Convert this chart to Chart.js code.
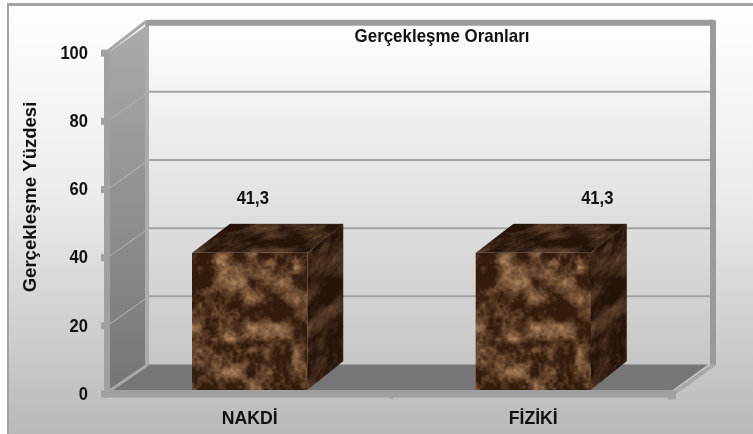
<!DOCTYPE html>
<html><head><meta charset="utf-8">
<style>html,body{margin:0;padding:0;background:#fff}#w{width:753px;height:434px;position:relative}</style>
<script src="https://cdn.jsdelivr.net/npm/chart.js@4"></script></head>
<body><div id="w"><canvas id="c" width="753" height="434"></canvas></div>
<script>
const categories = ['NAKDİ', 'FİZİKİ'];
const realizationValues = [41.3, 41.3];
const valueLabels = ['41,3', '41,3'];
const chartTitle = 'Gerçekleşme Oranları';
const yAxisTitle = 'Gerçekleşme Yüzdesi';
const yTicks = [0, 20, 40, 60, 80, 100];

const FONT = '"Liberation Sans",Arial,sans-serif';
const DX = 41, DY = 29, BDX = 36;
const LABEL_SHIFT = [3, 64];

function hash(x, y) { let h = (x * 374761393 + y * 668265263) | 0; h = Math.imul(h ^ (h >>> 13), 1274126177); return ((h ^ (h >>> 16)) >>> 0) / 4294967295; }
function noise(x, y) {
  const xi = Math.floor(x), yi = Math.floor(y), f = x - xi, g = y - yi;
  const u = f * f * (3 - 2 * f), v = g * g * (3 - 2 * g);
  const a = hash(xi, yi), b = hash(xi + 1, yi), c = hash(xi, yi + 1), d = hash(xi + 1, yi + 1);
  return a + (b - a) * u + (c - a) * v + (a - b - c + d) * u * v;
}
function fbm(x, y) { let s = 0, a = .5; for (let i = 0; i < 5; i++) { s += a * noise(x, y); x = x * 2 + 17; y = y * 2 + 9; a *= .5; } return s / .97; }
const tex = document.createElement('canvas'); tex.width = 116; tex.height = 138;
(function () {
  const g = tex.getContext('2d'), im = g.createImageData(116, 138);
  for (let y = 0; y < 138; y++) for (let x = 0; x < 116; x++) {
    let t = (fbm(x / 15 + 3, y / 15 + 5) - .5) * 1.7 + .27;
    t += .6 * (fbm(x / 2.8 + 40, y / 2.8 + 40) - .5);
    const hx = (x - 36) / 13, hy = (y - 86) / 6;
    t += .6 * Math.exp(-(hx * hx + hy * hy));
    const hx2 = (x - 58) / 14, hy2 = (y - 28) / 16;
    t += .15 * Math.exp(-(hx2 * hx2 + hy2 * hy2));
    t = Math.max(0, Math.min(1, t));
    const i = (y * 116 + x) * 4;
    im.data[i] = 52 + t * 135; im.data[i + 1] = 28 + t * 115; im.data[i + 2] = 13 + t * 90; im.data[i + 3] = 255;
  }
  g.putImageData(im, 0, 0);
})();

function narrowText(g, text, x, y, size, sx, align) {
  g.save(); g.translate(x, y); g.scale(sx, 1);
  g.font = 'bold ' + size + 'px ' + FONT; g.textAlign = align; g.textBaseline = 'middle'; g.fillStyle = '#111';
  g.fillText(text, 0, 0); g.restore();
}

const frame3d = {
  id: 'frame3d',
  beforeDraw(ch) {
    const g = ch.ctx, W = ch.width, H = ch.height;
    const bg = g.createLinearGradient(0, 4, 0, H);
    bg.addColorStop(0, '#ffffff'); bg.addColorStop(.45, '#ebebeb'); bg.addColorStop(1, '#b9b9b9');
    g.fillStyle = '#ffffff'; g.fillRect(0, 0, W, H);
    g.fillStyle = bg; g.fillRect(8, 5, W - 8, H - 5);
    g.fillStyle = '#a3a3a3'; g.fillRect(7, 3, W - 7, 3); g.fillRect(7, 3, 2, H - 3);
  },
  beforeDatasetsDraw(ch) {
    const g = ch.ctx, y = ch.scales.y, x = ch.scales.x;
    const L = x.left, R = x.right, y0 = y.getPixelForValue(0), yT = y.getPixelForValue(100);
    const bL = L + DX, bR = R + DX, bT = yT - DY, bB = y0 - DY;
    const wg = g.createLinearGradient(0, bT, 0, bB);
    wg.addColorStop(0, '#ffffff'); wg.addColorStop(1, '#c6c6c6');
    g.fillStyle = wg; g.fillRect(bL, bT, bR - bL, bB - bT);
    const sg = g.createLinearGradient(0, bT, 0, y0);
    sg.addColorStop(0, '#ababab'); sg.addColorStop(1, '#757575');
    g.fillStyle = sg; g.beginPath(); g.moveTo(L, yT); g.lineTo(bL, bT); g.lineTo(bL, bB); g.lineTo(L, y0); g.closePath(); g.fill();
    g.fillStyle = '#767676'; g.beginPath(); g.moveTo(L + 2, y0 - 3); g.lineTo(bL, bB); g.lineTo(bR - 8, bB); g.lineTo(R - 3, y0 - 3); g.closePath(); g.fill();
    yTicks.forEach(v => {
      if (v === 0 || v === 100) return;
      const p = y.getPixelForValue(v);
      g.strokeStyle = '#a3a3a3'; g.lineWidth = 2; g.beginPath(); g.moveTo(bL, p - DY); g.lineTo(bR - 5, p - DY); g.stroke();
      g.strokeStyle = '#b4b4b4'; g.lineWidth = 1; g.beginPath(); g.moveTo(L, p); g.lineTo(bL, p - DY); g.stroke();
    });
    g.fillStyle = '#ababab'; g.fillRect(bL - 4, bT - 3, 4, bB - bT + 3);
    g.fillStyle = '#9a9a9a';
    g.beginPath(); g.roundRect(bL - 3, bT - 4, bR - bL + 3, 6, [3, 3, 0, 0]); g.fill();
    g.beginPath(); g.roundRect(bR - 6, bT - 4, 6, bB - bT + 5, [0, 3, 0, 0]); g.fill();
    g.strokeStyle = '#a8a8a8'; g.lineWidth = 3;
    g.beginPath(); g.moveTo(L - 1, yT - 1); g.lineTo(bL - 2, bT - 3); g.stroke();
    g.beginPath(); g.moveTo(L + 2, y0 - 3); g.lineTo(bL - 1, bB); g.stroke();
    g.lineWidth = 4; g.beginPath(); g.moveTo(R, y0 - 1); g.lineTo(bR - 2, bB); g.stroke();
    g.fillStyle = '#a0a0a0';
    g.fillRect(L - 4, yT, 6, y0 - yT + 3);
    yTicks.forEach(v => g.fillRect(L - 7, y.getPixelForValue(v) - 3, 7, 7));
    g.fillRect(L - 4, y0 - 3, R - L + 1, 7);
    g.fillRect(R - 7, y0 - 3, 8, 9);
    g.fillRect(x.left + (R - L) / 2 - 2, y0 + 3, 4, 2);
  },
  afterDatasetsDraw(ch) {
    const g = ch.ctx, meta = ch.getDatasetMeta(0), xs = ch.scales.x, ys = ch.scales.y;
    meta.data.forEach((b, i) => {
      const w = b.width, l = b.x - w / 2, r = l + w, t = b.y, h = b.base - b.y;
      g.drawImage(tex, l, t, w, h);
      g.save(); g.beginPath(); g.moveTo(l, t); g.lineTo(l + BDX + 2, t - DY); g.lineTo(r + BDX, t - DY); g.lineTo(r, t); g.closePath(); g.clip();
      g.transform(1, 0, -(BDX + 1) / DY, 1, l + BDX + 1, t - DY);
      g.drawImage(tex, 0, 20, 116, 60, 0, 0, w, DY);
      g.fillStyle = 'rgba(25,12,5,.5)'; g.fillRect(-2, -2, w + 4, DY + 4);
      g.restore();
      g.save(); g.beginPath(); g.moveTo(r, t); g.lineTo(r + BDX, t - DY); g.lineTo(r + BDX, b.base - DY); g.lineTo(r, b.base); g.closePath(); g.clip();
      g.transform(1, -DY / BDX, 0, 1, r, t);
      g.drawImage(tex, 60, 0, 40, 138, 0, -2, BDX, h + 4);
      g.fillStyle = 'rgba(25,12,5,.5)'; g.fillRect(-2, -5, BDX + 4, h + 10);
      g.restore();
      narrowText(g, valueLabels[i], b.x + LABEL_SHIFT[i], t - 53.5, 18, .92, 'center');
      narrowText(g, categories[i], xs.getPixelForTick(i), 419, 18, .98, 'center');
    });
    yTicks.forEach(v => narrowText(g, String(v), 88, ys.getPixelForValue(v) + 1, 19, .87, 'right'));
    narrowText(g, chartTitle, 442, 37, 19, .89, 'center');
    g.save(); g.translate(31, 197); g.rotate(-Math.PI / 2);
    narrowText(g, yAxisTitle, 0, 0, 18, 1.03, 'center'); g.restore();
  }
};

new Chart(document.getElementById('c'), {
  type: 'bar',
  data: { labels: categories, datasets: [{ data: realizationValues, base: 1, backgroundColor: '#5a3a22', borderWidth: 0, barPercentage: 0.406, categoryPercentage: 1 }] },
  options: {
    responsive: false, animation: false,
    layout: { padding: { top: 52.7, right: 78, left: 0, bottom: 0 } },
    plugins: { legend: { display: false }, tooltip: { enabled: false } },
    scales: {
      x: {
        grid: { display: false, drawTicks: false }, border: { display: false },
        ticks: { display: false },
        afterFit(s) { s.height = 40.5; }
      },
      y: {
        min: 0, max: 100, grid: { display: false, drawTicks: false }, border: { display: false },
        ticks: { display: false, stepSize: 20 },
        afterFit(s) { s.width = 108; }
      }
    }
  },
  plugins: [frame3d]
});
</script></body></html>
